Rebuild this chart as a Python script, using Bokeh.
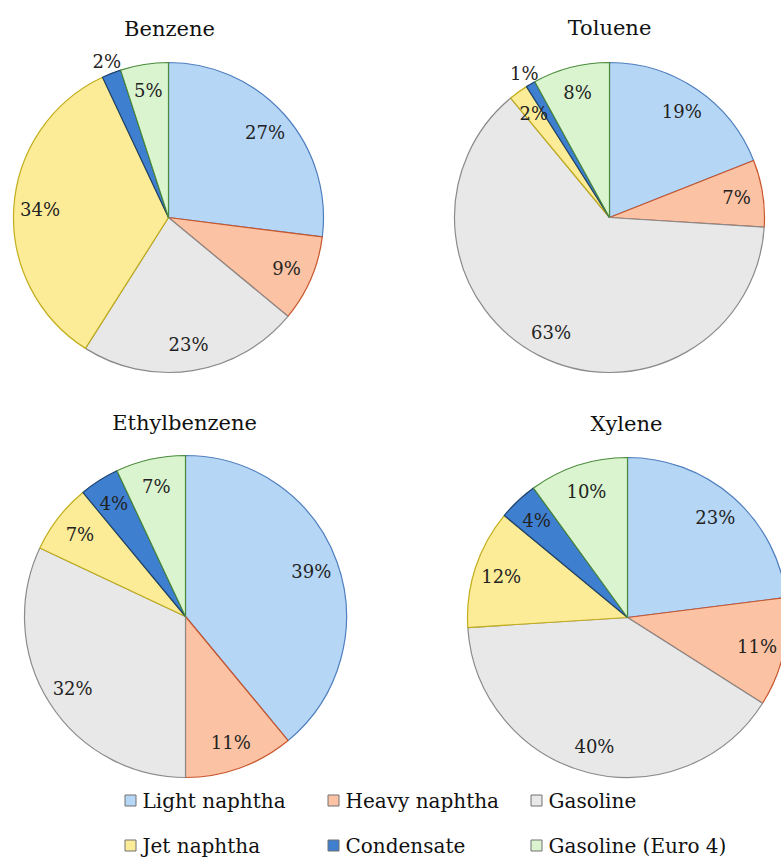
import math
from bokeh.plotting import figure
from bokeh.models import Range1d, ColumnDataSource
from bokeh.core.properties import value
from bokeh.embed import file_html
from bokeh.resources import INLINE

# ---- data ----
sources = ["Light naphtha", "Heavy naphtha", "Gasoline",
           "Jet naphtha", "Condensate", "Gasoline (Euro 4)"]
compounds = ["Benzene", "Toluene", "Ethylbenzene", "Xylene"]
benzene = [27, 9, 23, 34, 2, 5]
toluene = [19, 7, 63, 2, 1, 8]
ethylbenzene = [39, 11, 32, 7, 4, 7]
xylene = [23, 11, 40, 12, 4, 10]
series = [benzene, toluene, ethylbenzene, xylene]

# ---- styles ----
fills = ["#b6d6f6", "#fbc2a3", "#e8e8e8", "#fcec98", "#3f7fcf", "#d9f4cf"]
lines = ["#4f7fbf", "#c8552c", "#8a8a8a", "#c2ad1a", "#1d426f", "#4a8a3a"]
SERIF = "DejaVu Serif"

W, H = 781, 859
p = figure(width=W, height=H, x_range=Range1d(0, W), y_range=Range1d(0, H),
           x_axis_type=None, y_axis_type=None, toolbar_location=None,
           output_backend="svg", min_border=0, outline_line_color=None)
p.xgrid.visible = False
p.ygrid.visible = False
p.background_fill_color = "white"
p.border_fill_color = "white"

# layout in screen pixels (y measured from top)
centers = [(168, 217), (609, 217), (185, 616), (627, 617)]
radii = [155, 155, 161, 160]
title_pos = [(169, 28), (609, 27), (184, 422), (626, 423)]

for name, vals, (cx, cy_s), r, (tx, ty_s) in zip(compounds, series, centers, radii, title_pos):
    cy = H - cy_s
    total = float(sum(vals))
    c0s, c1s = [], []
    c = 0.0
    for v in vals:
        c0s.append(c / total)
        c += v
        c1s.append(c / total)
    starts = [math.pi / 2 - 2 * math.pi * b for b in c1s]
    ends = [math.pi / 2 - 2 * math.pi * a for a in c0s]
    src = ColumnDataSource(dict(start=starts, end=ends, fill=fills, line=lines))
    p.wedge(x=cx, y=cy, radius=r, start_angle="start", end_angle="end",
            fill_color="fill", line_color="line", line_width=1.2, source=src)
    # labels
    lx, ly, lt = [], [], []
    for i, (a, b, v) in enumerate(zip(c0s, c1s, vals)):
        mid = math.pi / 2 - 2 * math.pi * (a + b) / 2
        k = 1.08 if (sources[i] == "Condensate" and v <= 2) else 0.83
        lx.append(cx + k * r * math.cos(mid))
        ly.append(cy + k * r * math.sin(mid))
        lt.append(f"{v}%")
    p.text(x=lx, y=ly, text=lt, text_font=value(SERIF), text_font_size="18px",
           text_align="center", text_baseline="middle", text_color="#222222")
    p.text(x=[tx], y=[H - ty_s], text=[name], text_font=value(SERIF),
           text_font_size="21px", text_align="center", text_baseline="alphabetic",
           text_color="#111111")

# legend (3 columns x 2 rows)
col_x = [130, 333, 536]
row_y = [800, 845]
bx, by, tx_, ty_ = [], [], [], []
for i, s in enumerate(sources):
    col, row = i % 3, i // 3
    bx.append(col_x[col])
    by.append(H - row_y[row])
    tx_.append(col_x[col] + 12)
    ty_.append(H - row_y[row])
p.scatter(x=bx, y=by, marker="square", size=11, fill_color=fills,
          line_color="#707070", line_width=1)
p.text(x=tx_, y=ty_, text=sources, text_font=value(SERIF), text_font_size="20px",
       text_align="left", text_baseline="middle", text_color="#111111")

open("out.html", "w").write(file_html(p, INLINE))
